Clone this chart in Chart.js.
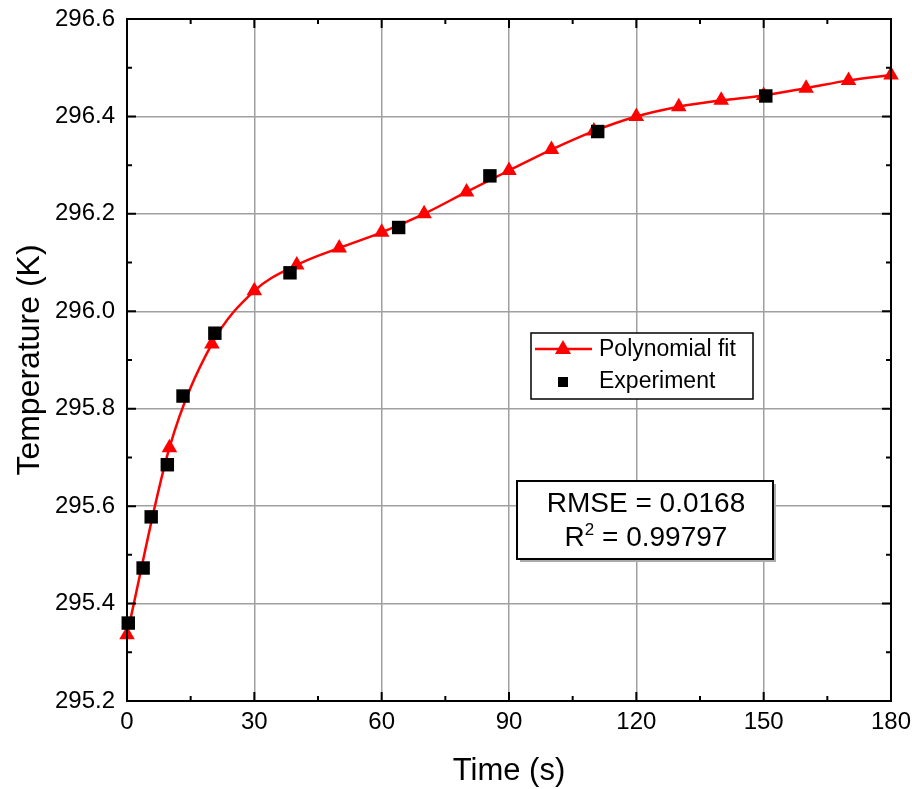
<!DOCTYPE html>
<html>
<head>
<meta charset="utf-8">
<script src="https://cdn.jsdelivr.net/npm/chart.js@4.4.1/dist/chart.umd.min.js"></script>
<style>
  html, body { margin: 0; padding: 0; background: #fff; }
  #wrap { width: 912px; height: 789px; }
</style>
</head>
<body>
<div id="wrap"><canvas id="chart" width="912" height="789"></canvas></div>
<script>
// polynomial fit, sampled every 10 s
const fitTime = [0, 10, 20, 30, 40, 50, 60, 70, 80, 90, 100, 110, 120, 130, 140, 150, 160, 170, 180];
const fitTemp = [295.336, 295.72, 295.933, 296.042, 296.095, 296.13, 296.162, 296.2, 296.245, 296.289,
                 296.332, 296.37, 296.4, 296.42, 296.433, 296.443, 296.458, 296.474, 296.485];

// measured points
const expTime = [0.3, 3.8, 5.7, 9.5, 13.2, 20.7, 38.4, 64.0, 85.5, 110.9, 150.5];
const expTemp = [295.36, 295.473, 295.578, 295.685, 295.826, 295.955, 296.079, 296.172, 296.278, 296.369, 296.442];

const xTicks = [0, 30, 60, 90, 120, 150, 180];
const yTicks = [295.2, 295.4, 295.6, 295.8, 296.0, 296.2, 296.4, 296.6];

const FONT = '"Liberation Sans", Arial, sans-serif';

// frame with inward major + minor ticks on all four sides
const framePlugin = {
    id: 'frame',
    afterDatasetsDraw(chart) {
        const { ctx, chartArea: a, scales: { x, y } } = chart;
        ctx.save();
        ctx.strokeStyle = '#000';
        ctx.lineWidth = 2;
        ctx.strokeRect(a.left, a.top, a.right - a.left, a.bottom - a.top);
        ctx.beginPath();
        for (let v = 0; v <= 180; v += 15) {
            const px = x.getPixelForValue(v);
            const len = v % 30 === 0 ? 9 : 5;
            ctx.moveTo(px, a.bottom); ctx.lineTo(px, a.bottom - len);
            ctx.moveTo(px, a.top); ctx.lineTo(px, a.top + len);
        }
        for (let i = 0; i <= 14; i++) {
            const py = y.getPixelForValue(295.2 + i * 0.1);
            const len = i % 2 === 0 ? 9 : 5;
            ctx.moveTo(a.left, py); ctx.lineTo(a.left + len, py);
            ctx.moveTo(a.right, py); ctx.lineTo(a.right - len, py);
        }
        ctx.stroke();
        ctx.restore();
    }
};

const boxesPlugin = {
    id: 'boxes',
    afterDraw(chart) {
        const { ctx } = chart;
        ctx.save();
        // legend
        ctx.fillStyle = '#fff';
        ctx.fillRect(531, 333, 222, 66);
        ctx.strokeStyle = '#000';
        ctx.lineWidth = 1.5;
        ctx.strokeRect(531, 333, 222, 66);
        ctx.strokeStyle = '#ff0000';
        ctx.lineWidth = 2.5;
        ctx.beginPath(); ctx.moveTo(535, 349); ctx.lineTo(592, 349); ctx.stroke();
        ctx.fillStyle = '#ff0000';
        ctx.beginPath(); ctx.moveTo(563, 340); ctx.lineTo(571, 354); ctx.lineTo(555, 354); ctx.closePath(); ctx.fill();
        ctx.fillStyle = '#000';
        ctx.fillRect(558, 377, 10, 10);
        ctx.font = '23px ' + FONT;
        ctx.textBaseline = 'middle';
        ctx.textAlign = 'left';
        ctx.fillText('Polynomial fit', 599, 350);
        ctx.fillText('Experiment', 599, 382);

        // stats box
        ctx.fillStyle = '#aaa';
        ctx.fillRect(520, 484, 256, 78);
        ctx.fillStyle = '#fff';
        ctx.fillRect(517, 481, 256, 78);
        ctx.strokeStyle = '#000';
        ctx.lineWidth = 2;
        ctx.strokeRect(517, 481, 256, 78);
        ctx.fillStyle = '#000';
        ctx.font = '28px ' + FONT;
        ctx.textAlign = 'center';
        ctx.fillText('RMSE = 0.0168', 646, 504);
        const rest = ' = 0.99797';
        const wR = ctx.measureText('R').width;
        const wRest = ctx.measureText(rest).width;
        ctx.font = '17px ' + FONT;
        const w2 = ctx.measureText('2').width;
        const start = 646 - (wR + w2 + wRest) / 2;
        ctx.textAlign = 'left';
        ctx.font = '28px ' + FONT;
        ctx.fillText('R', start, 538);
        ctx.fillText(rest, start + wR + w2, 538);
        ctx.font = '17px ' + FONT;
        ctx.fillText('2', start + wR, 530);
        ctx.restore();
    }
};

const ctx = document.getElementById('chart').getContext('2d');
const chart = new Chart(ctx, {
    type: 'scatter',
    data: {
        datasets: [
            {
                label: 'Polynomial fit',
                data: fitTime.map((t, i) => ({ x: t, y: fitTemp[i] })),
                showLine: true,
                borderColor: '#ff0000',
                borderWidth: 2.5,
                backgroundColor: '#ff0000',
                pointStyle: 'triangle',
                pointRadius: 9,
                pointBorderWidth: 0,
                cubicInterpolationMode: 'monotone',
                clip: false,
                order: 1
            },
            {
                label: 'Experiment',
                data: expTime.map((t, i) => ({ x: t, y: expTemp[i] })),
                showLine: false,
                backgroundColor: '#000',
                borderColor: '#000',
                pointStyle: 'rect',
                pointRadius: 9.5,
                pointBorderWidth: 0,
                clip: false,
                order: 0
            }
        ]
    },
    options: {
        responsive: false,
        animation: false,
        layout: { padding: { top: 19, right: 21, left: 0, bottom: 0 } },
        plugins: {
            legend: { display: false },
            tooltip: { enabled: false }
        },
        scales: {
            x: {
                type: 'linear',
                min: 0,
                max: 180,
                afterBuildTicks: (s) => { s.ticks = xTicks.map(v => ({ value: v })); },
                afterFit: (s) => { s.height = 88; s.paddingLeft = 0; s.paddingRight = 0; },
                grid: { color: '#a0a0a0', lineWidth: 1.5, drawTicks: false },
                border: { display: false },
                ticks: {
                    color: '#000',
                    padding: 7,
                    maxRotation: 0,
                    font: { family: FONT, size: 24 }
                },
                title: {
                    display: true,
                    text: 'Time (s)',
                    color: '#000',
                    padding: { top: 0, bottom: 0 },
                    font: { family: FONT, size: 31, lineHeight: 1.1 }
                }
            },
            y: {
                min: 295.2,
                max: 296.6,
                afterBuildTicks: (s) => { s.ticks = yTicks.map(v => ({ value: v })); },
                afterFit: (s) => { s.width = 127; s.paddingTop = 0; s.paddingBottom = 0; },
                grid: { color: '#a0a0a0', lineWidth: 1.5, drawTicks: false },
                border: { display: false },
                ticks: {
                    color: '#000',
                    padding: 12,
                    font: { family: FONT, size: 24 },
                    callback: (v) => v.toFixed(1)
                },
                title: {
                    display: true,
                    text: 'Temperature (K)',
                    color: '#000',
                    padding: { top: 13, bottom: 0 },
                    font: { family: FONT, size: 32, lineHeight: 1.05 }
                }
            }
        }
    },
    plugins: [framePlugin, boxesPlugin]
});
</script>
</body>
</html>
